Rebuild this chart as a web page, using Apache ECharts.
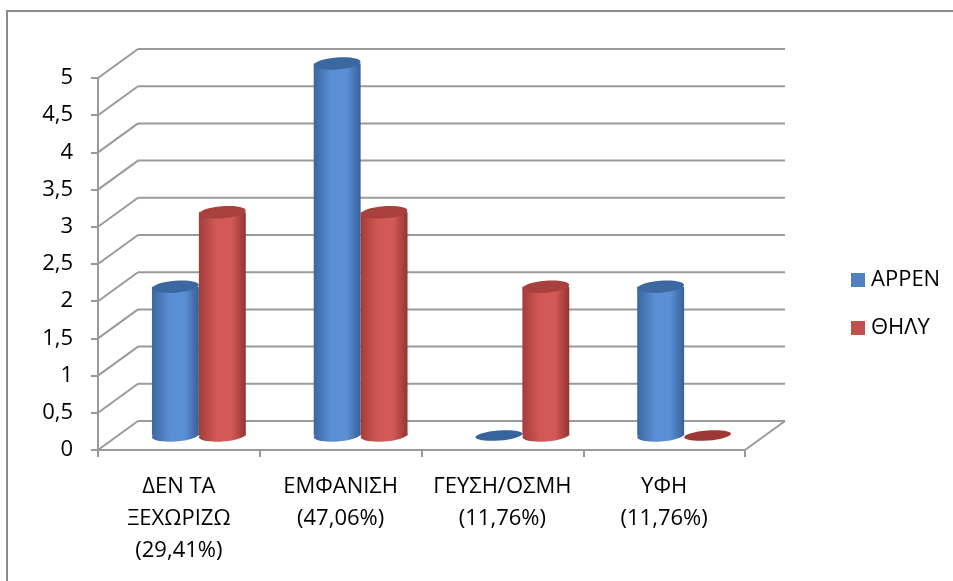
<!DOCTYPE html>
<html>
<head>
<meta charset="utf-8">
<style>
  html, body { margin: 0; padding: 0; background: #fff; }
  #chart { width: 953px; height: 581px; }
</style>
<script src="https://cdn.jsdelivr.net/npm/echarts@6/dist/echarts.min.js"></script>
</head>
<body>
<div id="chart"></div>
<script>
// Categories (with their share of answers) and counts per gender
const categories = ['ΔΕΝ ΤΑ\nΞΕΧΩΡΙΖΩ\n(29,41%)', 'ΕΜΦΑΝΙΣΗ\n(47,06%)', 'ΓΕΥΣΗ/ΟΣΜΗ\n(11,76%)', 'ΥΦΗ\n(11,76%)'];
const seriesNames = ['ΑΡΡΕΝ', 'ΘΗΛΥ'];
const maleValues = [2, 5, 0, 2];
const femaleValues = [3, 3, 2, 0];
const yTicks = [0, 0.5, 1, 1.5, 2, 2.5, 3, 3.5, 4, 4.5, 5];

// Oblique depth of the 3D box (back wall offset from the front plane)
const DX = 40, DY = -29;
const GRID_COLOR = '#9a9a9a';
const FONT = '"Open Sans", "Noto Sans", sans-serif';
const FONT_SIZE = 22;

const palettes = [
  { // blue
    edgeL: '#3b66a3', mid: '#5b8fd5', edgeR: '#36609a', top: '#3c68a2', flat: '#36649c'
  },
  { // red
    edgeL: '#a33d3a', mid: '#d25955', edgeR: '#943431', top: '#a8413e', flat: '#9e3835'
  }
];

// Back wall, left wall and floor outline drawn from the y scale
function renderWalls(params, api) {
  const v = api.value(1);
  const band = api.size([1, 0])[0];
  const left = api.coord([0, v]);
  const right = api.coord([categories.length - 1, v]);
  const x0 = left[0] - band / 2;
  const x1 = right[0] + band / 2;
  const y = left[1];
  const style = { stroke: GRID_COLOR, lineWidth: 2, fill: null };
  const children = [
    { type: 'line', shape: { x1: x0, y1: y, x2: x0 + DX, y2: y + DY }, style },
    { type: 'line', shape: { x1: x0 + DX, y1: y + DY, x2: x1 + DX, y2: y + DY }, style }
  ];
  if (v === 0) {
    children.push({ type: 'line', shape: { x1: x1, y1: y, x2: x1 + DX, y2: y + DY }, style });
  }
  return { type: 'group', children };
}

// Cylinder bars placed at mid depth of the box
function makeCylinderRenderer(seriesIndex) {
  const pal = palettes[seriesIndex];
  return function (params, api) {
    const i = api.value(0);
    const v = api.value(1);
    const band = api.size([1, 0])[0];
    const base = api.coord([i, 0]);
    const top = api.coord([i, v]);
    const w = band * 0.29;
    const cx = base[0] + DX / 2 + (seriesIndex === 0 ? -w / 2 : w / 2);
    const yb = base[1] + DY / 2;
    const yt = top[1] + DY / 2;
    const rx = w / 2, ry = 6;
    const tilt = 0.08;
    if (v === 0) {
      return {
        type: 'ellipse', x: cx, y: yb, rotation: tilt,
        shape: { cx: 0, cy: 0, rx: rx, ry: 5 },
        style: { fill: pal.flat }
      };
    }
    const grad = new echarts.graphic.LinearGradient(0, 0, 1, 0, [
      { offset: 0, color: pal.edgeL },
      { offset: 0.38, color: pal.mid },
      { offset: 0.7, color: pal.mid },
      { offset: 1, color: pal.edgeR }
    ]);
    return {
      type: 'group',
      children: [
        { type: 'ellipse', x: cx, y: yb, rotation: tilt, shape: { cx: 0, cy: 0, rx: rx, ry: ry }, style: { fill: grad } },
        { type: 'rect', shape: { x: cx - rx, y: yt, width: w, height: yb - yt }, style: { fill: grad } },
        { type: 'ellipse', x: cx, y: yt, rotation: tilt, shape: { cx: 0, cy: 0, rx: rx, ry: ry }, style: { fill: pal.top } }
      ]
    };
  };
}

const chart = echarts.init(document.getElementById('chart'), null, { renderer: 'canvas' });

chart.setOption({
  animation: false,
  backgroundColor: '#fff',
  graphic: [
    { type: 'line', shape: { x1: 6, y1: 11, x2: 953, y2: 11 }, style: { stroke: '#8c8c8c', lineWidth: 2 } },
    { type: 'line', shape: { x1: 7, y1: 10, x2: 7, y2: 581 }, style: { stroke: '#8c8c8c', lineWidth: 2 } }
  ],
  grid: { left: 98, right: 208, top: 78, bottom: 131, containLabel: false },
  legend: {
    orient: 'vertical', left: 846, top: 264,
    itemWidth: 14, itemHeight: 14, itemGap: 26,
    icon: 'rect',
    data: seriesNames,
    textStyle: { fontFamily: FONT, fontSize: FONT_SIZE, color: '#000', padding: [0, 0, 0, 1] }
  },
  xAxis: {
    type: 'category', data: categories,
    axisLine: { show: true, lineStyle: { color: GRID_COLOR, width: 2 } },
    axisTick: { show: true, length: 7, alignWithLabel: false, lineStyle: { color: GRID_COLOR, width: 2 } },
    axisLabel: { margin: 21, fontFamily: FONT, fontSize: FONT_SIZE, color: '#000', lineHeight: 32, interval: 0 },
    splitLine: { show: false }
  },
  yAxis: {
    type: 'value', min: 0, max: 5, interval: 0.5,
    axisLine: { show: true, lineStyle: { color: GRID_COLOR, width: 2 } },
    axisTick: { show: true, length: 7, lineStyle: { color: GRID_COLOR, width: 2 } },
    axisLabel: {
      margin: 25, fontFamily: FONT, fontSize: FONT_SIZE, color: '#000',
      formatter: v => String(v).replace('.', ',')
    },
    splitLine: { show: false }
  },
  series: [
    {
      type: 'custom', name: 'walls', z: 1, silent: true,
      renderItem: renderWalls,
      data: yTicks.map(v => [0, v]),
      encode: { x: 0, y: 1 }
    },
    {
      type: 'custom', name: seriesNames[0], z: 3,
      itemStyle: { color: '#4f81bd' },
      renderItem: makeCylinderRenderer(0),
      data: maleValues.map((v, i) => [i, v]),
      encode: { x: 0, y: 1 }
    },
    {
      type: 'custom', name: seriesNames[1], z: 4,
      itemStyle: { color: '#c0504d' },
      renderItem: makeCylinderRenderer(1),
      data: femaleValues.map((v, i) => [i, v]),
      encode: { x: 0, y: 1 }
    }
  ]
});
</script>
</body>
</html>
